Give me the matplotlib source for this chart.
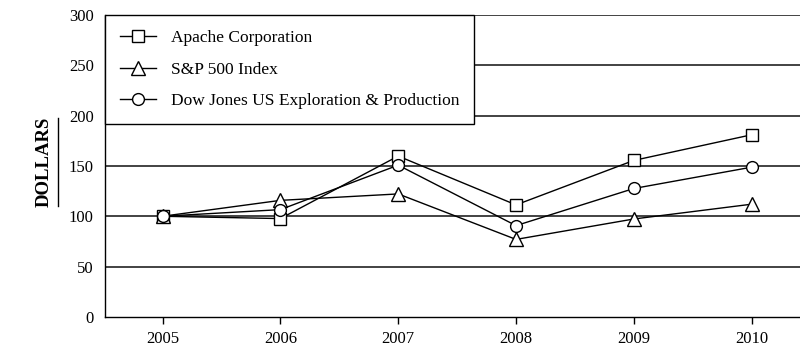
import matplotlib
matplotlib.use("Agg")
import matplotlib.pyplot as plt
from matplotlib.lines import Line2D

years = [2005, 2006, 2007, 2008, 2009, 2010]
apache = [100, 97.7, 159.8, 111.3, 155.5, 181]
sp500 = [100, 115.8, 122.2, 77.0, 97.3, 112.0]
dowjones = [100, 106.6, 150.8, 90.7, 127.6, 148.8]
labels = ["Apache Corporation", "S&P 500 Index", "Dow Jones US Exploration & Production"]

plt.rcParams['font.family'] = ['Liberation Serif', 'DejaVu Serif']

fig = plt.figure(figsize=(8, 3.49), dpi=100)
ax = fig.add_axes([0.131, 0.092, 0.869, 0.865])

for y in range(50, 301, 50):
    ax.axhline(y, color='#222222', lw=1.2, zorder=1)

mk = dict(color='black', lw=1.0, markerfacecolor='white', markeredgecolor='black',
          markeredgewidth=1.0, zorder=3)
ax.plot(years, apache, marker='s', markersize=8, label=labels[0], **mk)
ax.plot(years, sp500, marker='^', markersize=10, label=labels[1], **mk)
ax.plot(years, dowjones, marker='o', markersize=8.5, label=labels[2], **mk)

ax.set_xlim(2004.51, 2010.41)
ax.set_ylim(0, 300)
ax.set_xticks(years)
ax.set_yticks(range(0, 301, 50))
ax.tick_params(axis='y', length=0, pad=8, labelsize=12)
ax.tick_params(axis='x', length=5, width=1, direction='out', pad=5, labelsize=12)
for s in ['top', 'right']:
    ax.spines[s].set_visible(False)
for s in ['left', 'bottom']:
    ax.spines[s].set_color('black')
    ax.spines[s].set_linewidth(1.0)

leg = ax.legend(loc='upper left', bbox_to_anchor=(0, 1), borderaxespad=0,
                frameon=True, fancybox=False, edgecolor='black', framealpha=1,
                fontsize=12.5, labelspacing=0.9, handlelength=2.1, handletextpad=0.85,
                borderpad=0.85)
leg.get_frame().set_linewidth(1.0)
leg.set_zorder(5)

fig.text(0.055, 0.536, "DOLLARS", rotation=90, fontsize=13.5, fontweight='bold',
         ha='center', va='center')
fig.add_artist(Line2D([0.073, 0.073], [0.41, 0.662], color='black', lw=1.0,
                      transform=fig.transFigure))

fig.savefig("out.png", dpi=100)
